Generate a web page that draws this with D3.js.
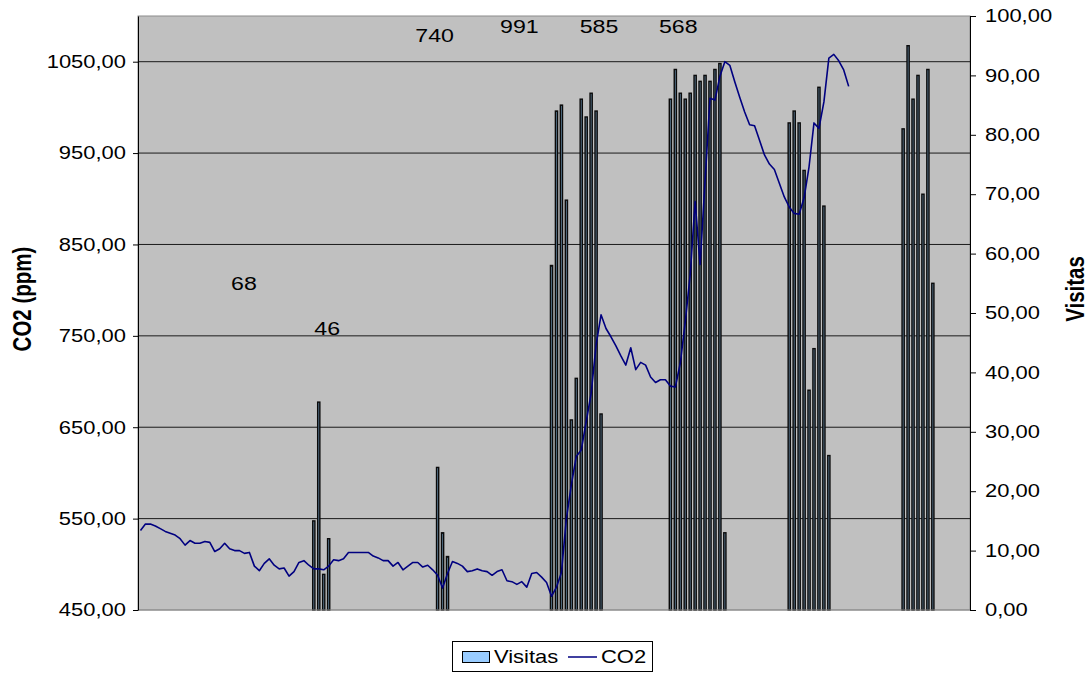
<!DOCTYPE html>
<html>
<head>
<meta charset="utf-8">
<script src="https://cdn.jsdelivr.net/npm/d3@7"></script>
<style>
  body { margin: 0; background: #ffffff; }
  text { font-family: "Liberation Sans", Arial, sans-serif; fill: #000; }
</style>
</head>
<body>
<svg id="chart" width="1090" height="675"></svg>
<script>
// ---- data -------------------------------------------------------------
const sampleCount = 168;               // number of measurement slots on the x axis
const samples = d3.range(sampleCount);

// CO2 readings (ppm), one per slot, starting at slot 0
const co2 = [
  537, 544, 544, 542, 539, 536, 534, 532, 528, 521,
  526, 523, 523, 525, 524, 514, 517, 523, 517, 515,
  515, 512, 513, 498, 493, 501, 506, 499, 495, 496,
  487, 492, 502, 504, 499, 495, 495, 494, 498, 505,
  504, 506, 513, 513, 513, 513, 513, 509, 507, 504,
  504, 498, 502, 494, 498, 502, 502, 497, 499, 494,
  488, 474, 490, 503, 501, 498, 492, 493, 495, 493,
  492, 488, 492, 494, 482, 481, 478, 481, 475, 490,
  491, 486, 480, 465, 475, 491, 550, 587, 618, 625,
  656, 687, 740, 773, 758, 749, 739, 728, 718, 737,
  713, 721, 718, 705, 699, 702, 702, 695, 694, 720,
  765, 817, 897, 828, 919, 1010, 1008, 1034, 1050, 1046,
  1028, 1011, 995, 981, 980, 964, 948, 938, 932, 917,
  902, 891, 884, 883, 901, 935, 983, 977, 1006, 1054,
  1058, 1051, 1041, 1023
];

// visits per slot (0 = no visits recorded)
const visitas = [
  0, 0, 0, 0, 0, 0, 0, 0, 0, 0,
  0, 0, 0, 0, 0, 0, 0, 0, 0, 0,
  0, 0, 0, 0, 0, 0, 0, 0, 0, 0,
  0, 0, 0, 0, 0, 15, 35, 6, 12, 0,
  0, 0, 0, 0, 0, 0, 0, 0, 0, 0,
  0, 0, 0, 0, 0, 0, 0, 0, 0, 0,
  24, 13, 9, 0, 0, 0, 0, 0, 0, 0,
  0, 0, 0, 0, 0, 0, 0, 0, 0, 0,
  0, 0, 0, 58, 84, 85, 69, 32, 39, 86,
  83, 87, 84, 33, 0, 0, 0, 0, 0, 0,
  0, 0, 0, 0, 0, 0, 0, 86, 91, 87,
  86, 87, 90, 89, 90, 89, 91, 92, 13, 0,
  0, 0, 0, 0, 0, 0, 0, 0, 0, 0,
  0, 82, 84, 82, 74, 37, 44, 88, 68, 26,
  0, 0, 0, 0, 0, 0, 0, 0, 0, 0,
  0, 0, 0, 0, 81, 95, 86, 90, 70, 91,
  55, 0, 0, 0, 0, 0, 0, 0
];

const co2Ticks = [450, 550, 650, 750, 850, 950, 1050];
const visitTicks = [0, 10, 20, 30, 40, 50, 60, 70, 80, 90, 100];
const co2Title = "CO2 (ppm)";
const visitTitle = "Visitas";
const legendItems = ["Visitas", "CO2"];

// ---- layout -----------------------------------------------------------
const plot = { left: 138, right: 970, top: 16, bottom: 610 };
const SX = 1.22;                        // horizontal text stretch
const fontSize = 18;

// where each burst-total note sits: [slot, CO2 value] of its baseline centre
const totalNoteAnchors = [[20.9, 800], [37.7, 751], [59.4, 1072], [76.5, 1081], [92.6, 1081], [108.6, 1081]];

const svg = d3.select("#chart");
svg.append("rect").attr("width", 1090).attr("height", 675).attr("fill", "#fff");

const x = d3.scaleBand().domain(samples).range([plot.left, plot.right])
  .paddingInner(0.56).paddingOuter(0.28);
const xc = i => x(i) + x.bandwidth() / 2;
const yL = d3.scaleLinear().domain([450, 1100]).range([plot.bottom, plot.top]);
const yR = d3.scaleLinear().domain([0, 100]).range([plot.bottom, plot.top]);

const fmt = d => d.toFixed(2).replace(".", ",");

// stretch a text element horizontally around its own x anchor
function stretch(sel) {
  sel.each(function () {
    const t = d3.select(this);
    const x0 = +t.attr("x") || 0;
    t.attr("x", x0 / SX).attr("transform", `scale(${SX},1)`);
  });
}

// plot area
svg.append("rect")
  .attr("x", plot.left).attr("y", plot.top)
  .attr("width", plot.right - plot.left).attr("height", plot.bottom - plot.top)
  .attr("fill", "#c0c0c0").attr("stroke", "#8c8c8c").attr("stroke-width", 1);

// horizontal gridlines on the CO2 scale
svg.append("g").selectAll("line")
  .data(co2Ticks.filter(t => t > 450))
  .join("line")
  .attr("x1", plot.left).attr("x2", plot.right)
  .attr("y1", d => yL(d)).attr("y2", d => yL(d))
  .attr("stroke", "#1a1a1a").attr("stroke-width", 1);

// visits bars
svg.append("g").selectAll("rect")
  .data(samples.filter(i => visitas[i] > 0))
  .join("rect")
  .attr("x", i => x(i))
  .attr("width", x.bandwidth())
  .attr("y", i => yR(visitas[i]))
  .attr("height", i => yR(0) - yR(visitas[i]))
  .attr("fill", "#5f7f99")
  .attr("stroke", "#0a0a0a")
  .attr("stroke-width", 1.4);

// CO2 line
svg.append("path")
  .datum(co2)
  .attr("fill", "none")
  .attr("stroke", "#000080")
  .attr("stroke-width", 1.6)
  .attr("stroke-linejoin", "round")
  .attr("d", d3.line().x((d, i) => xc(i)).y(d => yL(d)));

// bottom edge
svg.append("line")
  .attr("x1", plot.left).attr("x2", plot.right)
  .attr("y1", plot.bottom).attr("y2", plot.bottom)
  .attr("stroke", "#8c8c8c");

// left axis
const gL = svg.append("g").attr("transform", `translate(${plot.left},0)`)
  .call(d3.axisLeft(yL).tickValues(co2Ticks).tickFormat(fmt)
    .tickSize(5).tickSizeOuter(0).tickPadding(7));
gL.select(".domain").attr("stroke", "#000");
gL.selectAll(".tick line").attr("stroke", "#000");
gL.selectAll(".tick text").attr("font-size", fontSize).attr("font-family", null).call(stretch);

// right axis
const gR = svg.append("g").attr("transform", `translate(${plot.right},0)`)
  .call(d3.axisRight(yR).tickValues(visitTicks).tickFormat(fmt)
    .tickSize(6).tickSizeOuter(0).tickPadding(9));
gR.select(".domain").attr("stroke", "#000");
gR.selectAll(".tick line").attr("stroke", "#000");
gR.selectAll(".tick text").attr("font-size", fontSize).attr("font-family", null).call(stretch);

// axis titles
svg.append("g").attr("transform", `translate(22,299) scale(${SX},1) rotate(-90)`)
  .append("text").attr("text-anchor", "middle").attr("dy", "0.35em")
  .attr("font-size", 20.5).attr("font-weight", "bold").text(co2Title);
svg.append("g").attr("transform", `translate(1075,289) scale(${SX},1) rotate(-90)`)
  .append("text").attr("text-anchor", "middle").attr("dy", "0.35em")
  .attr("font-size", 20.5).attr("font-weight", "bold").text(visitTitle);

// totals of each burst of visits
const bursts = [];
samples.forEach(i => {
  if (visitas[i] > 0) {
    if (i > 0 && visitas[i - 1] > 0) bursts[bursts.length - 1] += visitas[i];
    else bursts.push(visitas[i]);
  }
});
svg.append("g").selectAll("text")
  .data(bursts)
  .join("text")
  .attr("text-anchor", "middle")
  .attr("font-size", 19)
  .attr("x", (d, k) => plot.left + (totalNoteAnchors[k][0] + 0.5) * x.step())
  .attr("y", (d, k) => yL(totalNoteAnchors[k][1]))
  .text(d => d)
  .call(stretch);

// legend
const lg = svg.append("g");
lg.append("rect").attr("x", 452.5).attr("y", 641.5).attr("width", 200).attr("height", 30)
  .attr("fill", "#fff").attr("stroke", "#000");
lg.append("rect").attr("x", 462.5).attr("y", 651.5).attr("width", 27).attr("height", 11)
  .attr("fill", "#99ccff").attr("stroke", "#000");
lg.append("text").attr("x", 494).attr("y", 663.5).attr("font-size", fontSize).text(legendItems[0]).call(stretch);
lg.append("line").attr("x1", 568).attr("x2", 597).attr("y1", 657).attr("y2", 657)
  .attr("stroke", "#000080").attr("stroke-width", 1.5);
lg.append("text").attr("x", 601).attr("y", 663.5).attr("font-size", fontSize).text(legendItems[1]).call(stretch);
</script>
</body>
</html>
